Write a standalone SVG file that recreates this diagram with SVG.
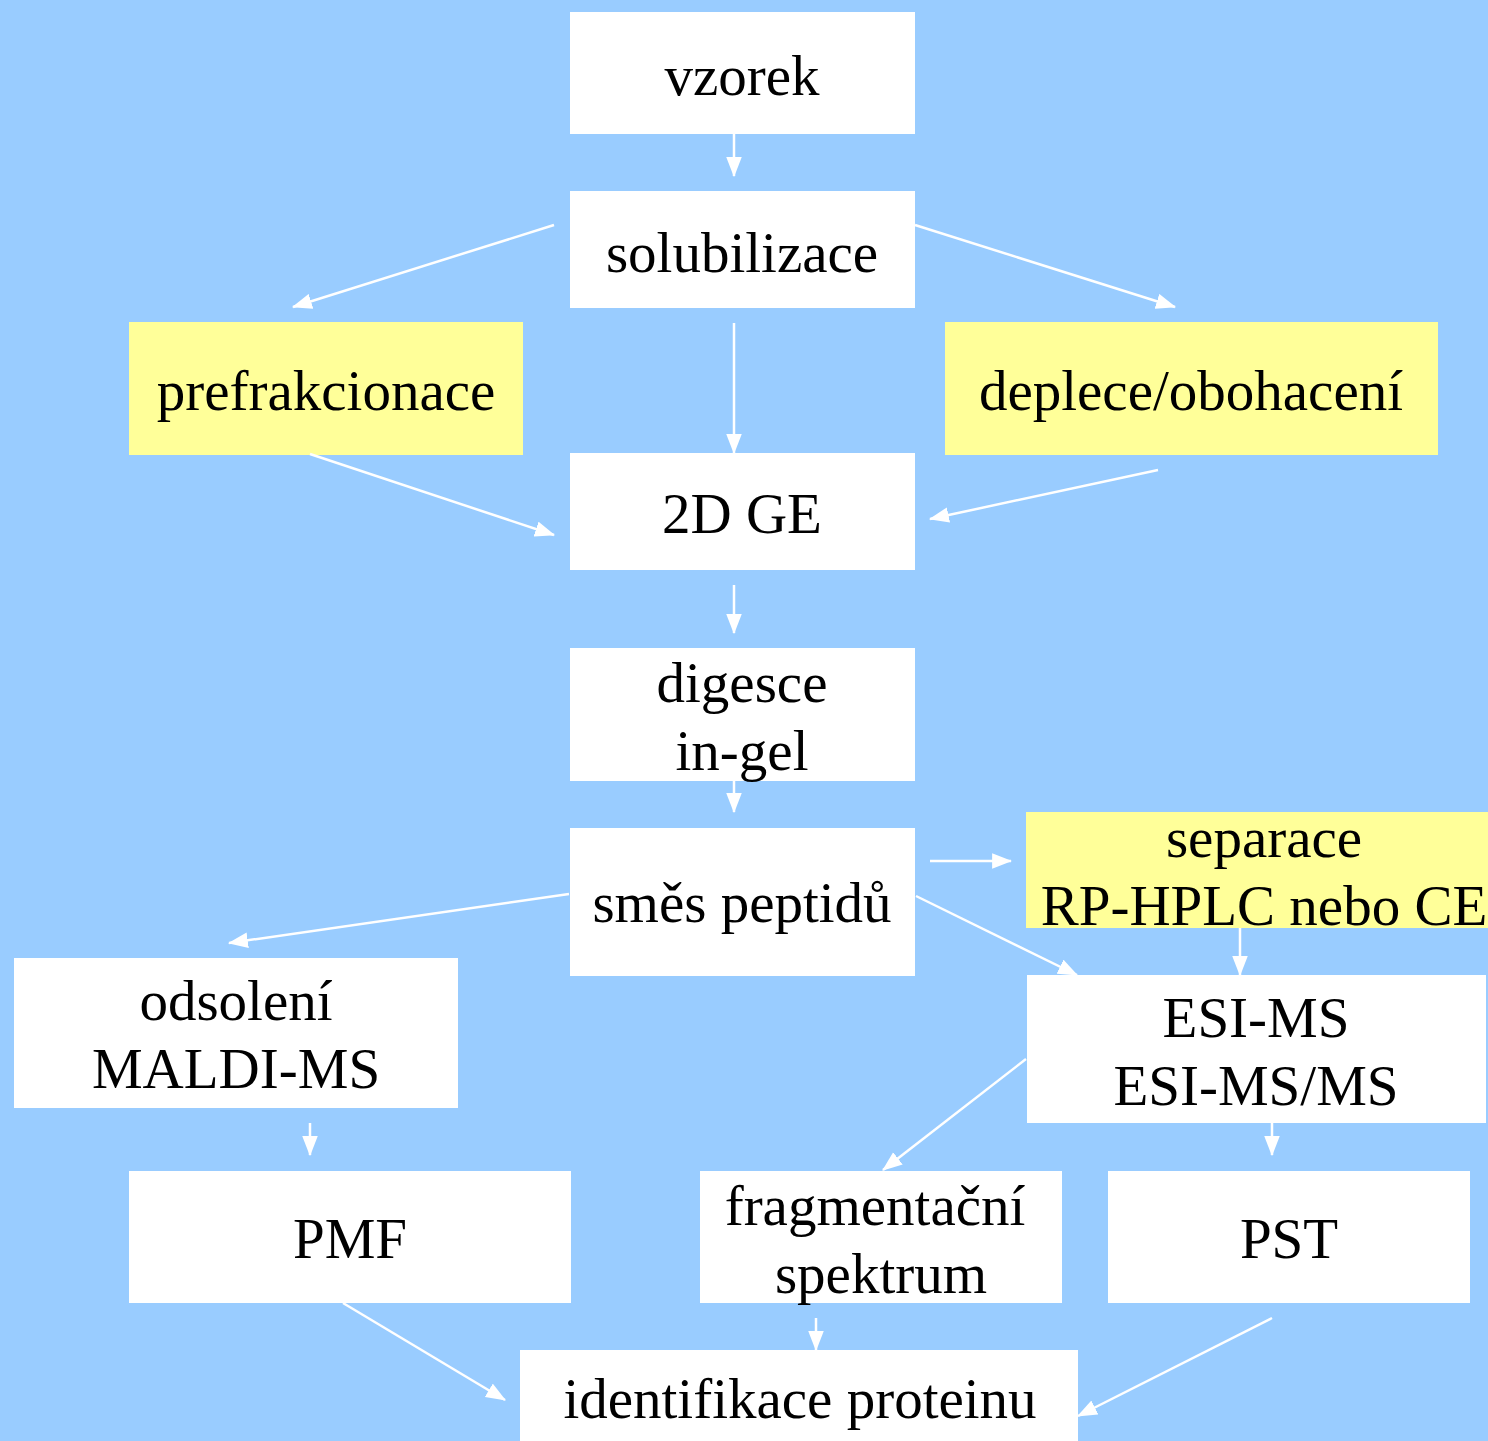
<svg xmlns="http://www.w3.org/2000/svg" width="1488" height="1441" viewBox="0 0 1488 1441">
<defs>
<marker id="ah" markerUnits="userSpaceOnUse" markerWidth="20" markerHeight="16" viewBox="0 0 18 14" refX="17" refY="7" orient="auto">
<path d="M0,0 L18,7 L0,14 z" fill="#ffffff"/>
</marker>
<style>
.box{fill:#ffffff}
.ybox{fill:#ffff99}
text{font-family:"Liberation Serif","Times New Roman",serif;font-size:57px;fill:#000000;text-anchor:middle}
.c line{stroke:#ffffff;stroke-width:2.5;marker-end:url(#ah)}
</style>
</defs>
<rect x="0" y="0" width="1488" height="1441" fill="#99ccff"/>

<g id="vzorek"><rect class="box" x="570" y="12" width="345" height="122"/><text x="742" y="95">vzorek</text></g>
<g id="solubilizace"><rect class="box" x="570" y="191" width="345" height="117"/><text x="742" y="272">solubilizace</text></g>
<g id="prefrakcionace"><rect class="ybox" x="129" y="322" width="394" height="133"/><text x="326" y="410">prefrakcionace</text></g>
<g id="deplece"><rect class="ybox" x="945" y="322" width="493" height="133"/><text x="1191" y="410">deplece/obohacení</text></g>
<g id="ge"><rect class="box" x="570" y="453" width="345" height="117"/><text x="742" y="533">2D GE</text></g>
<g id="digesce"><rect class="box" x="570" y="648" width="345" height="133"/><text x="742" y="702">digesce</text><text x="742" y="770">in-gel</text></g>
<g id="smes"><rect class="box" x="570" y="828" width="345" height="148"/><text x="742" y="922">směs peptidů</text></g>
<g id="separace"><rect class="ybox" x="1026" y="812" width="462" height="116"/><text x="1264" y="857">separace</text><text x="1264" y="925">RP-HPLC nebo CE</text></g>
<g id="odsoleni"><rect class="box" x="14" y="958" width="444" height="150"/><text x="236" y="1020">odsolení</text><text x="236" y="1088">MALDI-MS</text></g>
<g id="esi"><rect class="box" x="1027" y="975" width="459" height="148"/><text x="1256" y="1037">ESI-MS</text><text x="1256" y="1105">ESI-MS/MS</text></g>
<g id="pmf"><rect class="box" x="129" y="1171" width="442" height="132"/><text x="350" y="1258">PMF</text></g>
<g id="fragment"><rect class="box" x="700" y="1171" width="362" height="132"/><text x="875" y="1225">fragmentační</text><text x="881" y="1293">spektrum</text></g>
<g id="pst"><rect class="box" x="1108" y="1171" width="362" height="132"/><text x="1289" y="1258">PST</text></g>
<g id="identifikace"><rect class="box" x="520" y="1350" width="558" height="100"/><text x="800" y="1418">identifikace proteinu</text></g>

<g id="connectors" class="c">
<line x1="734" y1="134" x2="734" y2="176"/>
<line x1="554" y1="225" x2="293" y2="307"/>
<line x1="915" y1="225" x2="1175" y2="307"/>
<line x1="734" y1="323" x2="734" y2="453"/>
<line x1="310" y1="454" x2="554" y2="535"/>
<line x1="1158" y1="470" x2="930" y2="519"/>
<line x1="734" y1="585" x2="734" y2="633"/>
<line x1="734" y1="781" x2="734" y2="812"/>
<line x1="930" y1="861" x2="1011" y2="861"/>
<line x1="569" y1="894" x2="229" y2="943"/>
<line x1="916" y1="896" x2="1077" y2="975"/>
<line x1="1240" y1="928" x2="1240" y2="975"/>
<line x1="310" y1="1123" x2="310" y2="1155"/>
<line x1="1026" y1="1059" x2="883" y2="1170"/>
<line x1="1272" y1="1123" x2="1272" y2="1155"/>
<line x1="343" y1="1303" x2="505" y2="1400"/>
<line x1="816" y1="1318" x2="816" y2="1350"/>
<line x1="1272" y1="1318" x2="1078" y2="1416"/>
</g>
</svg>
